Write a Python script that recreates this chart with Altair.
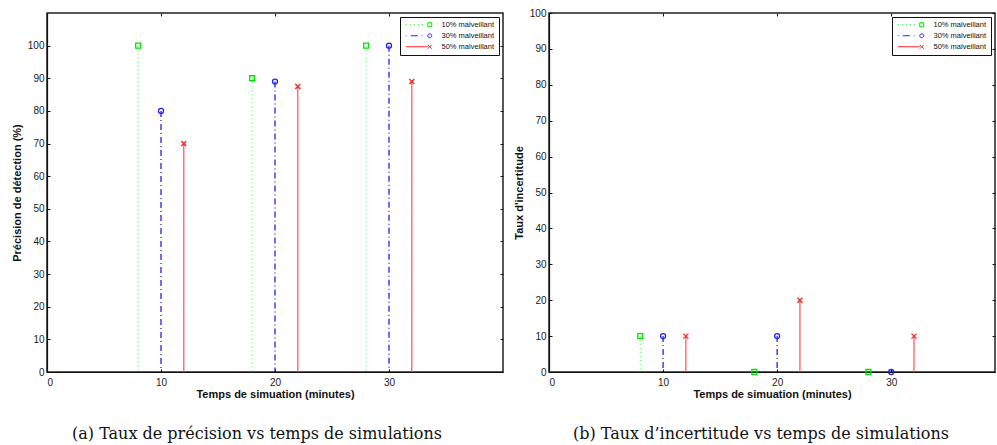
import altair as alt
import pandas as pd

series = ["10% malveillant", "30% malveillant", "50% malveillant"]
temps = [[8, 18, 28], [10, 20, 30], [12, 22, 32]]
precision = [[100, 90, 100], [80, 89, 100], [70, 87.5, 89]]
incertitude = [[10, 0, 0], [10, 10, 0], [10, 20, 10]]
x_ticks = [0, 10, 20, 30]
y_ticks = [0, 10, 20, 30, 40, 50, 60, 70, 80, 90, 100]

marker_colors = ["#00e000", "#2020ff", "#ff2020"]
stem_colors = ["#70f070", "#1010e0", "#ff5050"]
dashes = [[1, 3], [6, 3, 1, 3], [1, 0]]
marker_shapes = ["square", "circle", "M-1,-1L1,1M-1,1L1,-1"]
legend_paths = [
    "M-12,0L-11.5,0M-10,0L-9.5,0M-8,0L-7.5,0M-6,0L-5.5,0M-4,0L-3.5,0M-1,-1L1,-1L1,1L-1,1Z",
    "M-12,0L-11.6,0M-9.5,0L-6,0M-4,0L-3.6,0M1,0A1,1,0,1,1,-1,0A1,1,0,1,1,1,0",
    "M-12,0L-1,0M-1,-1L1,1M-1,1L1,-1",
]

FONT = "Liberation Sans"


def make_df(values):
    rows = []
    for s, xs, ys in zip(series, temps, values):
        for x, y in zip(xs, ys):
            rows.append({"serie": s, "temps": x, "valeur": y, "zero": 0})
    return pd.DataFrame(rows)


def panel(values, ymax, xmax, width, ytitle, caption, cap_dx):
    df = make_df(values)
    base = alt.Chart(df)
    xscale = alt.Scale(domain=[0, xmax], nice=False, zero=False)
    yscale = alt.Scale(domain=[0, ymax], nice=False)
    x_axis = alt.Axis(orient="bottom", values=x_ticks, title="Temps de simuation (minutes)",
                      tickSize={"expr": "-3"}, labelPadding=8, titlePadding=1, grid=False)
    y_axis = alt.Axis(orient="left", values=y_ticks, title=ytitle,
                      tickSize={"expr": "-3"}, labelPadding=6, titlePadding=5, grid=False)

    layers = []
    for i, (s, shp) in enumerate(zip(series, marker_shapes)):
        sub = base.transform_filter(alt.datum.serie == s)
        if i == 0:
            enc_x = alt.X("temps:Q", scale=xscale, axis=x_axis)
            enc_y = alt.Y("valeur:Q", scale=yscale, axis=y_axis)
        else:
            enc_x = alt.X("temps:Q", axis=None)
            enc_y = alt.Y("valeur:Q", axis=None)
        layers.append(
            sub.mark_rule(stroke=stem_colors[i], strokeDash=dashes[i], strokeWidth=1.2).encode(
                x=enc_x, y=enc_y, y2="zero:Q"
            )
        )
        layers.append(
            sub.mark_point(shape=shp, filled=False, size=25, strokeWidth=1.3, opacity=1,
                           color=marker_colors[i]).encode(
                x=alt.X("temps:Q", axis=None),
                y=alt.Y("valeur:Q", axis=None),
            )
        )
    legend_layer = base.mark_point(filled=False, opacity=0, size=16).encode(
        x=alt.X("temps:Q", axis=None),
        y=alt.Y("valeur:Q", axis=None),
        color=alt.Color("serie:N", scale=alt.Scale(domain=series, range=marker_colors),
                        legend=alt.Legend(title=None, orient="top-right")),
        shape=alt.Shape("serie:N", scale=alt.Scale(domain=series, range=legend_paths),
                        legend=alt.Legend(title=None, orient="top-right")),
    )
    layers.append(legend_layer)
    frame = base.mark_point(opacity=0).encode(
        x=alt.X("temps:Q", axis=alt.Axis(orient="top", values=x_ticks, labels=False, title=None,
                                         tickSize={"expr": "-3"}, domain=False, grid=False)),
        y=alt.Y("valeur:Q", axis=alt.Axis(orient="right", values=y_ticks, labels=False, title=None,
                                          tickSize={"expr": "-3"}, domain=False, grid=False)),
    )
    layers.append(frame)
    return alt.layer(*layers).properties(
        width=width, height=359,
        title=alt.TitleParams(caption, orient="bottom", font="DejaVu Serif", fontSize=16,
                              fontWeight="normal", offset=27, dx=cap_dx, color="#111"),
    )


left = panel(precision, 110, 40, 456, "Précision de détection (%)",
             "(a)  Taux de précision vs temps de simulations", -18)
right = panel(incertitude, 100, 39.1, 446, "Taux d'incertitude",
              "(b)  Taux d’incertitude vs temps de simulations", -11)

chart = alt.hconcat(left, right, spacing=7).resolve_scale(
    color="independent", shape="independent", x="independent", y="independent",
).resolve_legend(color="independent", shape="independent").properties(
    padding={"left": 10, "top": 7, "right": 0, "bottom": 0}
).configure_view(stroke="#222", strokeWidth=1.5).configure_axis(
    labelFont=FONT, labelFontSize=10, labelColor="#222", titleFont=FONT, titleFontSize=11,
    titleFontWeight="bold", titleColor="#111", domainColor="#111", tickColor="#111",
    domainWidth=1.2,
).configure_legend(
    offset=4, padding=4, strokeColor="#111", fillColor="white",
    labelFont=FONT, labelFontSize=7.5, labelColor="#111", symbolOpacity=1, symbolSize=16,
    symbolStrokeWidth=1, rowPadding=2, symbolOffset=22, labelOffset=8,
)

chart.save("out.html", embed_options={"renderer": "svg", "actions": False})
